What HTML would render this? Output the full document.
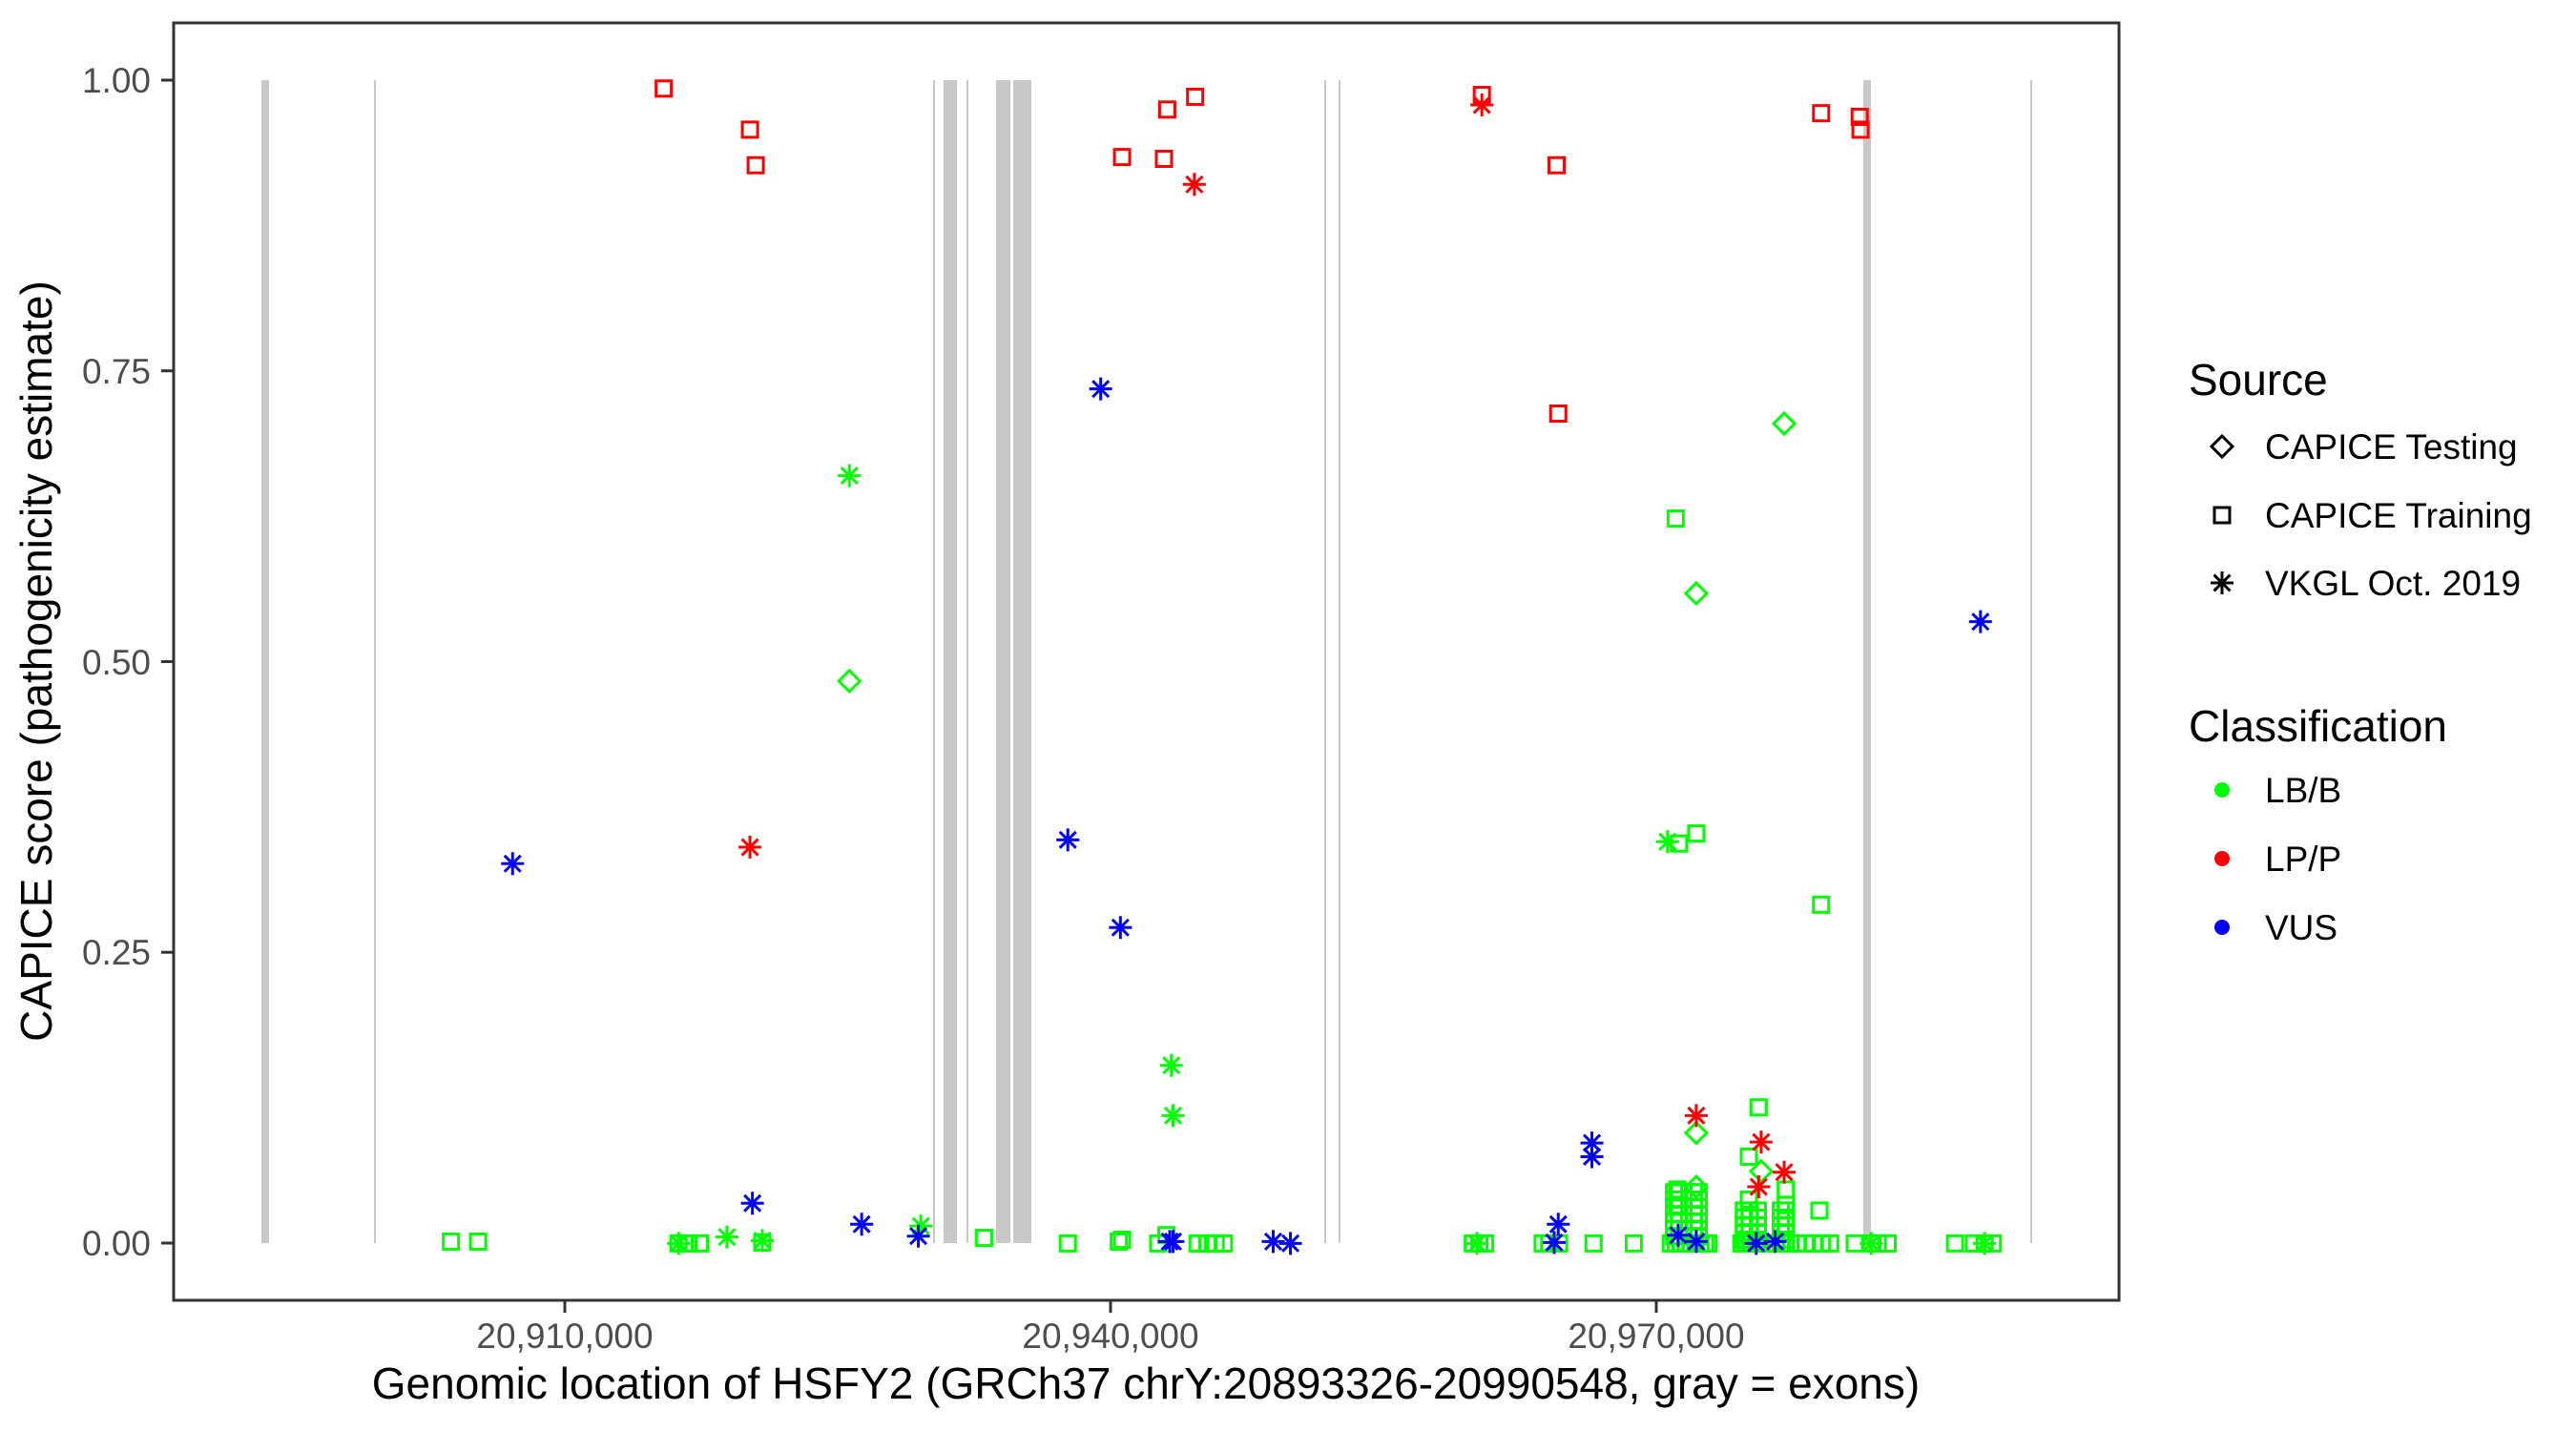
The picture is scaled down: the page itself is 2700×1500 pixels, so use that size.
<!DOCTYPE html>
<html><head><meta charset="utf-8"><style>
html,body{margin:0;padding:0;background:#fff;}
svg{display:block;font-family:"Liberation Sans",Arial,sans-serif;}
</style></head><body>
<svg id="s" width="2700" height="1500" viewBox="0 0 2700 1500" xmlns="http://www.w3.org/2000/svg">
<rect width="2700" height="1500" fill="#fff"/>
<g id="ex" fill="#C8C8C8"></g>
<g id="pts" fill="none" stroke-width="3"></g>
<rect x="182" y="24" width="2039" height="1339" fill="none" stroke="#333" stroke-width="3"/>
<g stroke="#333" stroke-width="3">
<line x1="169" y1="84" x2="182" y2="84"/><line x1="169" y1="388.7" x2="182" y2="388.7"/>
<line x1="169" y1="693.5" x2="182" y2="693.5"/><line x1="169" y1="998.2" x2="182" y2="998.2"/>
<line x1="169" y1="1303" x2="182" y2="1303"/>
<line x1="592" y1="1363" x2="592" y2="1376"/><line x1="1164" y1="1363" x2="1164" y2="1376"/><line x1="1736" y1="1363" x2="1736" y2="1376"/>
</g>
<g font-size="37" fill="#4D4D4D" text-anchor="end">
<text x="158" y="97">1.00</text><text x="158" y="402">0.75</text><text x="158" y="707">0.50</text><text x="158" y="1011">0.25</text><text x="158" y="1316">0.00</text>
</g>
<g font-size="37" fill="#4D4D4D" text-anchor="middle">
<text x="592" y="1413">20,910,000</text><text x="1164" y="1413">20,940,000</text><text x="1736" y="1413">20,970,000</text>
</g>
<text x="1201" y="1466" font-size="46" text-anchor="middle" fill="#000">Genomic location of HSFY2 (GRCh37 chrY:20893326-20990548, gray = exons)</text>
<text transform="translate(54,693) rotate(-90)" font-size="46" text-anchor="middle" fill="#000">CAPICE score (pathogenicity estimate)</text>
<g font-size="46" fill="#000"><text x="2294" y="414">Source</text><text x="2294" y="777">Classification</text></g>
<g font-size="37" fill="#000">
<text x="2374" y="481">CAPICE Testing</text><text x="2374" y="553">CAPICE Training</text><text x="2374" y="624">VKGL Oct. 2019</text>
<text x="2374" y="841">LB/B</text><text x="2374" y="913">LP/P</text><text x="2374" y="985">VUS</text>
</g>
<g id="leg" fill="none" stroke="#000" stroke-width="3"></g>
<circle cx="2329" cy="828" r="8" fill="#00FF00"/><circle cx="2329" cy="900" r="8" fill="#FF0000"/><circle cx="2329" cy="972" r="8" fill="#0000FF"/>
</svg>
<script>
var NS="http://www.w3.org/2000/svg";
function el(p,t,a){var e=document.createElementNS(NS,t);for(var k in a)e.setAttribute(k,a[k]);p.appendChild(e);return e;}
var ex=document.getElementById('ex');
[[274,8],[392,2],[978,2],[989,14],[1013,2],[1044,15],[1062,19],[1388,2],[1403,2],[1953,8],[2128,2]].forEach(function(b){el(ex,'rect',{x:b[0],y:84,width:b[1],height:1219});});
var G="#00FF00",R="#FF0000",B="#0000FF";
function shape(p,t,x,y,c){
 if(t=='s')el(p,'rect',{x:x-8,y:y-8,width:16,height:16,stroke:c});
 else if(t=='d')el(p,'path',{d:'M'+x+' '+(y-11)+'L'+(x+11)+' '+y+'L'+x+' '+(y+11)+'L'+(x-11)+' '+y+'Z',stroke:c});
 else{var r=12,d='';for(var i=0;i<4;i++){var a=i*Math.PI/4,dx=r*Math.cos(a),dy=r*Math.sin(a);d+='M'+(x-dx)+' '+(y-dy)+'L'+(x+dx)+' '+(y+dy);}el(p,'path',{d:d,stroke:c});}
}
var pts=document.getElementById('pts');
function z1(t,c,dx,dy){shape(pts,t,dx/1.1615,dy/1.045,c);}
function z2(t,c,dx,dy){shape(pts,t,1350+dx/1.1615,dy/1.045,c);}
[[808,97],[913,142],[920,181],[1366,172],[1417,174],[1421,120],[1455,106]].forEach(function(p){z1('s',R,p[0],p[1]);});
[[913,928],[1454,202]].forEach(function(p){z1('a',R,p[0],p[1]);});
[[549,1360],[582,1360],[826,1362],[838,1362],[852,1362],[928,1361],[1198,1356],[1300,1362],[1362,1360],[1366,1358],[1410,1362],[1420,1353],[1458,1362],[1470,1362],[1480,1362],[1490,1362]].forEach(function(p){z1('s',G,p[0],p[1]);});
z1('d',G,1034,746);
[[1034,521],[1426,1167],[1428,1222],[885,1355],[826,1362],[928,1359],[1121,1343]].forEach(function(p){z1('a',G,p[0],p[1]);});
[[624,946],[1340,426],[1300,920],[1364,1016],[916,1318],[1049,1341],[1118,1354],[1428,1360],[1424,1360],[1550,1360]].forEach(function(p){z1('a',B,p[0],p[1]);});
var bot=[225,233,240,310,318,330,372,421,466,472,478,484,490,496,502,508,512,552,558,564,570,576,582,588,594,600,606,612,620,630,640,650,660,690,710,718,730,812,835,848,858];
bot.forEach(function(x){z2('s',G,x,1362);});
[470,476,494,500].forEach(function(x){for(var y=1306;y<1362;y+=8)z2('s',G,x,y);});
[555,562,572,600,606].forEach(function(x){for(var y=1326;y<1362;y+=8)z2('s',G,x,y);});
[[472,568],[497,913],[476,924],[649,991],[573,1213],[561,1267],[561,1314],[606,1303],[606,1320],[647,1326],[474,1303],[474,1320]].forEach(function(p){z2('s',G,p[0],p[1]);});
[[604,464],[497,650],[497,1241],[576,1283],[497,1300]].forEach(function(p){z2('d',G,p[0],p[1]);});
[[462,922],[230,1362],[710,1362],[848,1362]].forEach(function(p){z2('a',G,p[0],p[1]);});
[[236,104],[327,181],[329,453],[649,124],[696,128],[697,142]].forEach(function(p){z2('s',R,p[0],p[1]);});
[[236,115],[497,1222],[576,1251],[573,1300],[604,1284]].forEach(function(p){z2('a',R,p[0],p[1]);});
[[843,681],[370,1252],[370,1267],[329,1341],[324,1361],[475,1353],[497,1360],[593,1360],[570,1362],[3,1362]].forEach(function(p){z2('a',B,p[0],p[1]);});
var leg=document.getElementById('leg');
shape(leg,'d',2329,468,'#000');shape(leg,'s',2329,540,'#000');shape(leg,'a',2329,611,'#000');
</script>
</body></html>
